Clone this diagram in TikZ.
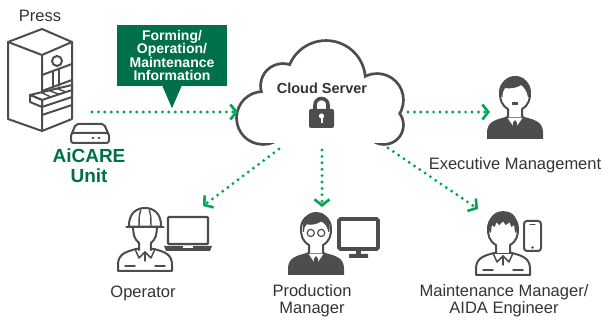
\documentclass[tikz,border=0pt]{standalone}
\usepackage{fontspec}
\setmainfont{Liberation Sans}
\usetikzlibrary{arrows.meta}

\definecolor{aidagreen}{HTML}{00704A}
\definecolor{flowgreen}{HTML}{00A651}
\definecolor{icongray}{HTML}{4D4D4D}
\definecolor{textgray}{HTML}{333333}

\tikzset{
  flow/.style={flowgreen, line width=3.2pt, line cap=round, dash pattern=on 0pt off 6.4pt,
    -{Straight Barb[length=6pt,width=15pt,line width=2.6pt]}},
  icon/.style={draw=icongray, line width=2pt, line join=round, line cap=round},
  role/.style={text=textgray, font=\fontsize{16.5}{17}\selectfont, align=center},
  % face with neck, drawn over the body
  pics/face/.style={code={
    \filldraw[fill=white, icon] (-7,40) -- (-7,32) .. controls (-14,28) and (-15,22) .. (-15,16)
      .. controls (-15,6) and (-8,1) .. (0,1) .. controls (8,1) and (15,6) .. (15,16)
      .. controls (15,22) and (14,28) .. (7,32) -- (7,40);
  }},
  % dark suit with tie
  pics/suit/.style={code={
    \fill[icongray] (-28,62) -- (-28,56) .. controls (-28,46) and (-22,43) .. (-9,40) -- (9,40)
      .. controls (22,43) and (28,46) .. (28,56) -- (28,62) -- cycle;
    \filldraw[fill=white, icon, line width=1.2pt] (-9,40) -- (0,53) -- (9,40) -- cycle;
    \fill[icongray] (0,43) -- (2.2,46) -- (1.8,55) -- (0,58) -- (-1.8,55) -- (-2.2,46) -- cycle;
  }},
  % work jacket, line only
  pics/jacket/.style={code={
    \filldraw[fill=white, icon] (-27,62) -- (-27,56) .. controls (-27,46) and (-21,43) .. (-9,40) -- (9,40)
      .. controls (21,43) and (27,46) .. (27,56) -- (27,62) -- cycle;
    \draw[icon, line width=1.5pt] (-10,40) -- (-6,49) -- (0,43) -- (6,49) -- (10,40);
    \draw[icon, line width=1.5pt] (0,43) -- (0,52);
    \draw[icon, line width=1.5pt] (-20,57) -- (-10,57) (10,57) -- (20,57);
  }}
}

\begin{document}
\begin{tikzpicture}[x=1pt, y=-1pt]
\useasboundingbox (0,0) rectangle (603,320);

% press
\node[role] (press) at (40,16) {Press};
\filldraw[fill=white, icon] (8,42) -- (42,29) -- (72,42) -- (72,119) -- (42,131) -- (8,119) -- cycle;
\draw[icon] (8,42) -- (42,55) -- (72,42) (42,55) -- (42,131);
\draw[icon] (57,61) circle (5);
\draw[icon] (42,75) -- (72,64);
\draw[icon] (53,71) -- (53,88) (59,69) -- (59,86);
\draw[icon] (42,91) -- (72,80);
\filldraw[fill=white, icon] (30,95) -- (72,85) -- (72,90) -- (42,100) -- cycle;
\filldraw[fill=white, icon] (30,95) -- (42,100) -- (42,107) -- (30,102) -- cycle;
\draw[icon] (42,107) -- (72,97);
\draw[icon, line width=1.4pt] (41,92.4) -- (51,97) (49,90.5) -- (59,94.3) (57,88.6) -- (66,92);
\draw[icon] (42,115) -- (72,105);

% AiCARE unit
\filldraw[fill=white, icon, rounded corners=2pt] (72,133) -- (76,124) -- (104,124) -- (108,133);
\filldraw[fill=white, icon, rounded corners=2.5pt] (71,133) rectangle (109,143);
\fill[icongray] (93,138) circle (1.4) (99,138) circle (1.4);
\node[text=aidagreen, font=\bfseries\fontsize{19}{20}\selectfont, align=center] (unit) at (89,166) {AiCARE\\Unit};

% information callout
\node[fill=aidagreen, text=white, font=\bfseries\fontsize{14}{13.3}\selectfont, align=center,
  minimum width=110pt, minimum height=61pt, inner sep=0pt] (info) at (172,55.5)
  {Forming/\\Operation/\\Maintenance\\Information};
\fill[aidagreen] ([xshift=-9.5pt]info.south) -- ([xshift=9.5pt]info.south) -- ([yshift=-22pt]info.south) -- cycle;

% cloud: thick outline of every lobe, then white fill on top
\foreach \cx/\cy/\r in {263/118/25, 283/86/21, 326/80/38, 377/100/25, 384/125/18}
  \draw[icongray, line width=5.6pt] (\cx,\cy) circle (\r);
\foreach \cx/\cy/\r in {263/118/25, 283/86/21, 326/80/38, 377/100/25, 384/125/18}
  \fill[white] (\cx,\cy) circle (\r);
\fill[white] (263,143) rectangle (384,100);
\node[text=black!80, font=\bfseries\fontsize{14.5}{15}\selectfont] (cloud) at (322,88) {Cloud Server};

% lock
\draw[icongray, line width=3.6pt] (315,111) -- (315,105) arc[start angle=180, end angle=360, radius=6.5] -- (328,111);
\fill[icongray, rounded corners=2pt] (309,109) rectangle (334,128);
\fill[white] (321.5,116) circle (2.6);
\fill[white] (320.5,116) rectangle (322.5,123);

% connector ends
\coordinate (unit-out) at (92,112);
\coordinate (cloud-in) at (238,112);
\coordinate (cloud-out) at (408,112);
\coordinate (exec-in) at (490,112);
\coordinate (cloud-sw) at (279,149);
\coordinate (operator-in) at (203,206);
\coordinate (cloud-s) at (322,150);
\coordinate (prod-in) at (322,207);
\coordinate (cloud-se) at (388,148);
\coordinate (maint-in) at (478,209);

\draw[flow] (unit-out) -- (cloud-in);
\draw[flow] (cloud-out) -- (exec-in);
\draw[flow] (cloud-sw) -- (operator-in);
\draw[flow] (cloud-s) -- (prod-in);
\draw[flow] (cloud-se) -- (maint-in);

% executive
\pic at (515,77) {suit};
\pic at (515,77) {face};
\fill[icongray] (515-13.5,77+20) .. controls (515-16,77+5) and (515-8,77-1) .. (515,77-1)
  .. controls (515+9,77-1) and (515+16,77+5) .. (515+14,77+20) -- (515+13,77+20)
  .. controls (515+12,77+14) and (515+9,77+10) .. (515+6,77+8) .. controls (515+2,77+11) and (515-5,77+12) .. (515-10,77+11)
  .. controls (515-12,77+13) and (515-12.5,77+16) .. (515-12.5,77+20) -- cycle;
\fill[icongray] (512,102) rectangle (518,105);
\node[role, anchor=base] (exec) at (515,170) {Executive Management};

% operator with helmet and laptop
\begin{scope}[shift={(145,209)}, xscale=0.85, yscale=1.03]
  \pic {jacket};
  \filldraw[fill=white, icon] (-7,40) -- (-7,33) .. controls (-13,29) and (-14,24) .. (-14,17)
    -- (14,17) .. controls (14,24) and (13,29) .. (7,33) -- (7,40);
  \filldraw[fill=white, icon] (-19,17) .. controls (-19,4) and (-10,-1) .. (0,-1)
    .. controls (10,-1) and (19,4) .. (19,17) -- cycle;
  \draw[icon] (-22,17.5) -- (22,17.5);
  \draw[icon, line width=1.4pt] (-5,1) .. controls (-7,7) .. (-7,16) (5,1) .. controls (7,7) .. (7,16);
\end{scope}
\draw[icon, line width=2.4pt, rounded corners=1pt] (168,217) rectangle (208,244);
\fill[icongray] (164,246) -- (212,246) -- (210,251) -- (166,251) -- cycle;
\fill[white] (183,246) rectangle (193,248);
\node[role, anchor=base] (operator) at (143,298) {Operator};

% production manager with monitor
\begin{scope}[shift={(316,213)}, scale=0.95]
  \pic {suit};
  \pic {face};
  \fill[icongray] (-13.5,20) .. controls (-16,5) and (-8,-1) .. (0,-1) .. controls (9,-1) and (16,5) .. (14,20)
    -- (13,20) .. controls (12,14) and (9,10) .. (5,9) .. controls (1,12) and (-5,13) .. (-10,12)
    .. controls (-12,14) and (-12.5,16) .. (-12.5,20) -- cycle;
  \filldraw[fill=white, icon, line width=1.2pt] (-5.5,21) circle (3.8) (5.5,21) circle (3.8);
\end{scope}
\draw[icongray, line width=3.6pt, rounded corners=1.5pt] (339,219) rectangle (378,249);
\fill[icongray] (356,249) rectangle (361,255);
\fill[icongray, rounded corners=0.5pt] (349,254) rectangle (368,258);
\node[role, anchor=base] (prod) at (312,314) {Production\\Manager};

% maintenance manager with phone
\begin{scope}[shift={(503,213)}, scale=0.93]
  \pic {jacket};
  \pic {face};
  \fill[icongray] (-14.5,21) .. controls (-18,6) and (-10,-2) .. (0,-2) .. controls (11,-2) and (18,6) .. (14.5,21)
    -- (13,21) -- (12,13) -- (9,15) -- (7,10) -- (3,13) -- (0,9) -- (-4,13) -- (-7,10) -- (-9,15) -- (-12,13) -- (-13,21) -- cycle;
\end{scope}
\draw[icon, rounded corners=3pt] (524,221) rectangle (541,251);
\draw[icon, line width=1.2pt] (530,224.5) -- (535,224.5);
\fill[icongray] (532.5,247.5) circle (1.3);
\node[role, anchor=base] (maint) at (504,314) {Maintenance Manager/\\AIDA Engineer};
\end{tikzpicture}
\end{document}
